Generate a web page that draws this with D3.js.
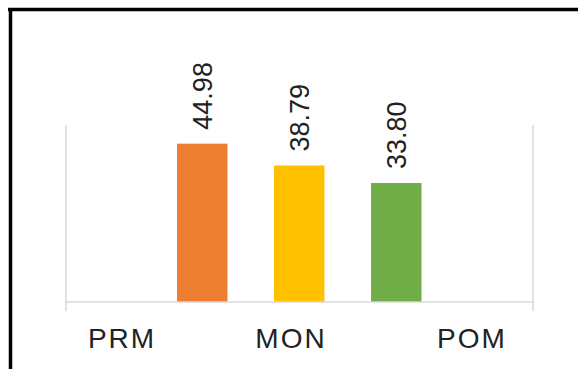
<!DOCTYPE html>
<html>
<head>
<meta charset="utf-8">
<script src="https://cdn.jsdelivr.net/npm/d3@7"></script>
<style>
  html, body { margin: 0; padding: 0; background: #fff; }
  svg { display: block; }
</style>
</head>
<body>
<svg id="chart" width="578" height="369"></svg>
<script>
// Season categories along the x axis
const categories = ["PRM", "MON", "POM"];
// Series plotted inside the MON group
const seriesNames = ["A", "B", "C"];
const seriesValues = [44.98, 38.79, 33.80];
const seriesColors = ["#ED7D31", "#FFC000", "#70AD47"];
const yDomain = [0, 50];

const svg = d3.select("#chart");
const W = 578, H = 369;

// Frame: heavy rule along the top and left edges
svg.append("line").attr("x1", 8).attr("x2", W).attr("y1", 9.5).attr("y2", 9.5)
  .attr("stroke", "#000").attr("stroke-width", 3.5);
svg.append("line").attr("x1", 10.5).attr("x2", 10.5).attr("y1", 8).attr("y2", H)
  .attr("stroke", "#000").attr("stroke-width", 3.5);

const plot = { left: 66, right: 533, top: 126, bottom: 302 };

const y = d3.scaleLinear().domain(yDomain).range([plot.bottom, plot.top]);

// Category band across the plot
const x = d3.scaleBand().domain(categories).range([plot.left, plot.right]);

// Bars within the MON group
const xs = d3.scaleBand().domain(seriesNames).range([177, 421.5]).paddingInner(0.48).paddingOuter(0);

// Category label positions
const xLabel = d3.scaleOrdinal().domain(categories).range([122, 291, 472]);

const grid = "#d9d9d9";
// Plot edge lines
[plot.left, plot.right].forEach(px => {
  svg.append("line").attr("x1", px).attr("x2", px)
    .attr("y1", plot.top - 1).attr("y2", plot.bottom + 9)
    .attr("stroke", grid).attr("stroke-width", 1.5);
});

// Bars
const bars = seriesValues.map((v, i) => ({ name: seriesNames[i], value: v, color: seriesColors[i] }));
svg.selectAll("rect.bar").data(bars).enter().append("rect")
  .attr("class", "bar")
  .attr("x", d => xs(d.name))
  .attr("width", xs.bandwidth())
  .attr("y", d => y(d.value))
  .attr("height", d => y(0) - y(d.value))
  .attr("fill", d => d.color);

// Baseline axis
const axis = svg.append("g").attr("transform", `translate(0,${plot.bottom})`)
  .call(d3.axisBottom(x).tickSize(0).tickFormat(""));
axis.select(".domain").attr("stroke", grid).attr("stroke-width", 1.5)
  .attr("d", `M${plot.left - 1},0H${plot.right}`);

// Value labels, rotated
svg.selectAll("text.val").data(bars).enter().append("text")
  .attr("class", "val")
  .attr("transform", d => `translate(${xs(d.name) + xs.bandwidth() / 2 + 9.5},${y(d.value) - 14}) rotate(-90)`)
  .attr("text-anchor", "start")
  .attr("font-family", "Liberation Sans, Arial, sans-serif")
  .attr("font-size", 27)
  .attr("fill", "#222")
  .text(d => d.value.toFixed(2));

// Category labels
svg.selectAll("text.cat").data(categories).enter().append("text")
  .attr("class", "cat")
  .attr("x", d => xLabel(d))
  .attr("y", 348)
  .attr("text-anchor", "middle")
  .attr("font-family", "Liberation Sans, Arial, sans-serif")
  .attr("font-size", 28)
  .attr("letter-spacing", 2)
  .attr("fill", "#222")
  .text(d => d);
</script>
</body>
</html>
